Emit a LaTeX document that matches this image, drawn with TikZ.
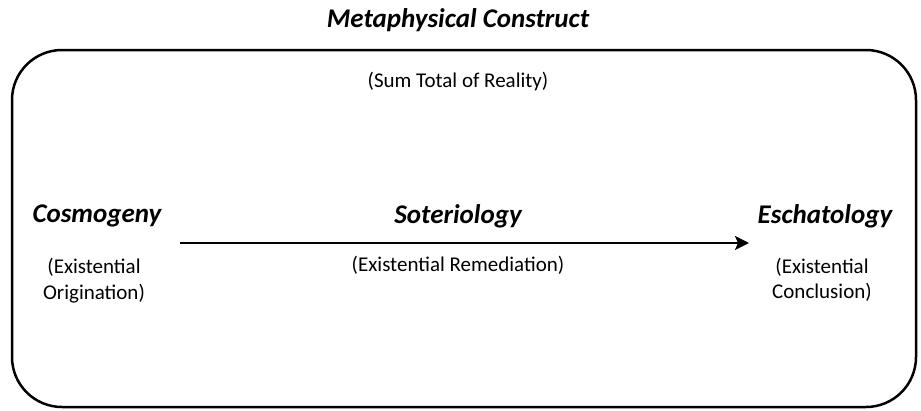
\documentclass[tikz,border=0pt]{standalone}
\usepackage{fontspec}
\setmainfont{Carlito}
\usetikzlibrary{arrows.meta}
\tikzset{
  heading/.style={anchor=base, inner sep=0pt, font=\fontsize{27}{32}\selectfont\bfseries\itshape},
  plain/.style={anchor=base, inner sep=0pt, font=\fontsize{21}{26}\selectfont},
  frame/.style={draw=black, line width=2.5pt, rounded corners=50pt},
  flow/.style={draw=black, line width=2pt, -{Stealth[length=14pt,width=14pt,inset=3pt]}}
}
\begin{document}
\begin{tikzpicture}[x=1pt,y=-1pt]
\useasboundingbox (0,0) rectangle (921,410);
\path[frame] (12,50) rectangle (916,407);
\node[heading] (title) at (458,27) {Metaphysical Construct};
\node[plain] (sum) at (458,87) {(Sum Total of Reality)};
\node[heading] (cos) at (97,222) {Cosmogeny};
\node[heading] (sot) at (458,223) {Soteriology};
\node[heading] (esc) at (825,223) {Eschatology};
\node[plain] (cos1) at (94,273) {(Existential};
\node[plain] (cos2) at (94,299) {Origination)};
\node[plain] (rem) at (458,271) {(Existential Remediation)};
\node[plain] (esc1) at (822,273) {(Existential};
\node[plain] (esc2) at (822,298) {Conclusion)};
\coordinate (a0) at (180,243);
\coordinate (a1) at (749,243);
\draw[flow] (a0) -- (a1);
\end{tikzpicture}
\end{document}
